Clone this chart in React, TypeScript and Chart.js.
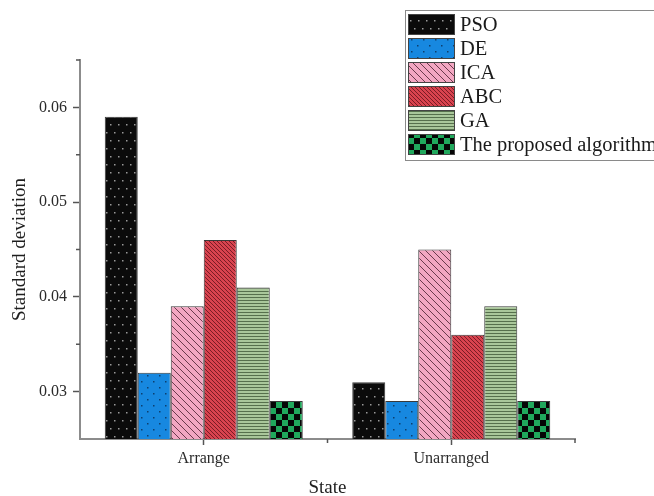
import React, { useEffect, useRef } from 'react';
import { Chart, registerables } from 'chart.js';

Chart.register(...registerables);

const categories = ['Arrange', 'Unarranged'];
const seriesNames = ['PSO', 'DE', 'ICA', 'ABC', 'GA', 'The proposed algorithm'];
const psoValues = [0.059, 0.031];
const deValues = [0.032, 0.029];
const icaValues = [0.039, 0.045];
const abcValues = [0.046, 0.036];
const gaValues = [0.041, 0.039];
const proposedValues = [0.029, 0.029];
const yTickValues = [0.03, 0.04, 0.05, 0.06];
const yTickLabels = ['0.03', '0.04', '0.05', '0.06'];
const yMinorTicks = [0.035, 0.045, 0.055, 0.065];
const Y_MIN = 0.025;
const Y_MAX = 0.065;

const SERIF = '"Liberation Serif", "Times New Roman", serif';

type Drawer = (g: CanvasRenderingContext2D, w: number, h: number) => void;

function makePattern(ctx: CanvasRenderingContext2D, w: number, h: number, draw: Drawer) {
  const c = document.createElement('canvas');
  c.width = w;
  c.height = h;
  const g = c.getContext('2d') as CanvasRenderingContext2D;
  draw(g, w, h);
  return ctx.createPattern(c, 'repeat') as CanvasPattern;
}

function diagTile(bg: string, fg: string, s: number, lw: number): Drawer {
  return (g) => {
    g.fillStyle = bg;
    g.fillRect(0, 0, s, s);
    g.strokeStyle = fg;
    g.lineWidth = lw;
    g.beginPath();
    g.moveTo(-1, -1);
    g.lineTo(s + 1, s + 1);
    g.moveTo(s - 1, -1);
    g.lineTo(s + 1, 1);
    g.moveTo(-1, s - 1);
    g.lineTo(1, s + 1);
    g.stroke();
  };
}

function buildPatterns(ctx: CanvasRenderingContext2D) {
  const pso = makePattern(ctx, 8, 16, (g) => {
    g.fillStyle = '#0b0b0b';
    g.fillRect(0, 0, 8, 16);
    g.fillStyle = '#9a9a9a';
    g.fillRect(2, 4, 1.5, 1.5);
    g.fillRect(6, 12, 1.5, 1.5);
  });
  const de = makePattern(ctx, 12, 12, (g) => {
    g.fillStyle = '#1788e0';
    g.fillRect(0, 0, 12, 12);
    g.fillStyle = '#0d3f6e';
    g.fillRect(3, 3, 1.5, 1.5);
    g.fillRect(9, 9, 1.5, 1.5);
  });
  const ica = makePattern(ctx, 7, 7, diagTile('#f3a7c2', '#6b3a4c', 7, 1));
  const abc = makePattern(ctx, 4, 4, diagTile('#d9434f', '#7a1c25', 4, 1));
  const ga = makePattern(ctx, 4, 3, (g) => {
    g.fillStyle = '#a9c79a';
    g.fillRect(0, 0, 4, 3);
    g.fillStyle = '#56704c';
    g.fillRect(0, 0, 4, 1);
  });
  const prop = makePattern(ctx, 12, 12, (g) => {
    g.fillStyle = '#20a85c';
    g.fillRect(0, 0, 12, 12);
    g.fillStyle = '#050505';
    g.fillRect(0, 0, 6, 6);
    g.fillRect(6, 6, 6, 6);
  });
  return [pso, de, ica, abc, ga, prop];
}

const legendPlugin = {
  id: 'customLegend',
  afterDraw(chart: any) {
    const ctx: CanvasRenderingContext2D = chart.ctx;
    ctx.save();
    ctx.strokeStyle = '#8a8a8a';
    ctx.lineWidth = 1;
    ctx.strokeRect(405.5, 10.5, 300, 150);
    chart.data.datasets.forEach((ds: any, i: number) => {
      const y = 14 + i * 24;
      ctx.fillStyle = ds.backgroundColor;
      ctx.fillRect(408, y, 47, 21);
      ctx.strokeStyle = '#444';
      ctx.lineWidth = 1;
      ctx.strokeRect(408.5, y + 0.5, 46, 20);
      ctx.fillStyle = '#1a1a1a';
      ctx.font = '20.5px ' + SERIF;
      ctx.textBaseline = 'middle';
      ctx.textAlign = 'left';
      ctx.fillText(ds.label, 460, y + 11.5);
    });
    ctx.restore();
  },
};

const minorTickPlugin = {
  id: 'minorTicks',
  afterDraw(chart: any) {
    const ctx: CanvasRenderingContext2D = chart.ctx;
    const ys = chart.scales.y;
    const xs = chart.scales.x;
    const area = chart.chartArea;
    ctx.save();
    ctx.strokeStyle = '#555';
    ctx.lineWidth = 1.5;
    ctx.beginPath();
    yMinorTicks.forEach((v) => {
      const py = ys.getPixelForValue(v);
      ctx.moveTo(area.left - 4, py);
      ctx.lineTo(area.left, py);
    });
    const mid = (xs.getPixelForValue(0) + xs.getPixelForValue(1)) / 2;
    ctx.moveTo(mid, area.bottom);
    ctx.lineTo(mid, area.bottom + 4);
    ctx.moveTo(area.right, area.bottom);
    ctx.lineTo(area.right, area.bottom + 4);
    ctx.stroke();
    ctx.restore();
  },
};

export default function App() {
  const ref = useRef<HTMLCanvasElement | null>(null);

  useEffect(() => {
    const canvas = ref.current;
    if (!canvas) return;
    const ctx = canvas.getContext('2d') as CanvasRenderingContext2D;
    const patterns = buildPatterns(ctx);
    const seriesValues = [psoValues, deValues, icaValues, abcValues, gaValues, proposedValues];

    const chart = new Chart(ctx, {
      type: 'bar',
      data: {
        labels: categories,
        datasets: seriesNames.map((name, i) => ({
          label: name,
          data: seriesValues[i],
          backgroundColor: patterns[i] as any,
          borderColor: '#3a3a3a',
          borderWidth: 1,
          base: Y_MIN,
          categoryPercentage: 0.8,
          barPercentage: 1.0,
        })),
      },
      options: {
        responsive: false,
        animation: false,
        layout: { padding: { top: 60, right: 79, left: 0, bottom: 0 } },
        plugins: {
          legend: { display: false },
          tooltip: { enabled: false },
        },
        scales: {
          x: {
            type: 'category',
            offset: true,
            grid: {
              display: true,
              drawOnChartArea: false,
              drawTicks: true,
              tickLength: 6,
              tickColor: '#555',
              tickWidth: 1.5,
              offset: false,
            },
            border: { display: true, color: '#8c8c8c', width: 2 },
            ticks: {
              color: '#2a2a2a',
              font: { family: SERIF, size: 16 },
              padding: 4,
              maxRotation: 0,
            },
            title: {
              display: true,
              text: 'State',
              color: '#1e1e1e',
              font: { family: SERIF, size: 19 },
              padding: { top: 0, bottom: -3 },
            },
            afterFit: (s: any) => {
              s.height = 57;
            },
          },
          y: {
            type: 'linear',
            min: Y_MIN,
            max: Y_MAX,
            grid: {
              display: true,
              drawOnChartArea: false,
              drawTicks: true,
              tickLength: 7,
              tickColor: '#555',
              tickWidth: 1.5,
            },
            border: { display: true, color: '#8c8c8c', width: 2 },
            ticks: {
              color: '#2a2a2a',
              font: { family: SERIF, size: 16 },
              padding: 6,
              callback: (v: any) => {
                const idx = yTickValues.findIndex((t) => Math.abs(t - Number(v)) < 1e-9);
                return idx >= 0 ? yTickLabels[idx] : '';
              },
            },
            afterBuildTicks: (s: any) => {
              s.ticks = yTickValues.map((v) => ({ value: v }));
            },
            title: {
              display: true,
              text: 'Standard deviation',
              color: '#1e1e1e',
              font: { family: SERIF, size: 19 },
              padding: { top: 9, bottom: 0 },
            },
            afterFit: (s: any) => {
              s.width = 80;
            },
          },
        },
      },
      plugins: [legendPlugin, minorTickPlugin],
    } as any);

    return () => {
      chart.destroy();
    };
  }, []);

  return (
    <div style={{ position: 'fixed', left: 0, top: 0, width: 654, height: 496, background: '#fff' }}>
      <canvas ref={ref} width={654} height={496} style={{ display: 'block', width: 654, height: 496 }} />
    </div>
  );
}
